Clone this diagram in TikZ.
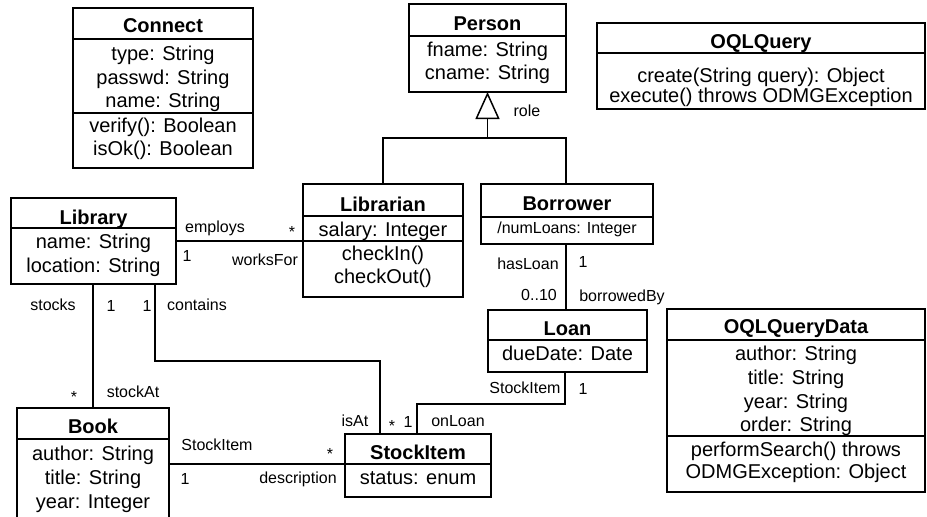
\documentclass[tikz,border=0pt]{standalone}
\usepackage{fontspec}
\setmainfont{Liberation Sans}
\usetikzlibrary{arrows.meta,calc}
\begin{document}
\begin{tikzpicture}[x=1pt,y=-1pt,
  box/.style={draw,line width=1.5pt,inner sep=0pt,outer sep=0pt},
  sepline/.style={line width=1.5pt},
  conn/.style={line width=1.5pt},
  title/.style={inner sep=0pt,font=\fontsize{20}{24}\selectfont\bfseries,text height=14.5pt,text depth=4pt},
  attr/.style={inner sep=0pt,font=\fontsize{20}{24}\selectfont,text height=14.5pt,text depth=4pt},
  small/.style={inner sep=0pt,font=\fontsize{16}{19}\selectfont,text height=11.5pt,text depth=3.5pt},
  lbl/.style={inner sep=0pt,font=\fontsize{16}{19}\selectfont,text height=11.5pt,text depth=3.5pt}
]
\useasboundingbox (0,0) rectangle (927,517);
\clip (0,0) rectangle (927,517);
\fill[white] (0,0) rectangle (927,517);

% ---------- Connect ----------
\node[box,minimum width=180pt,minimum height=160pt] (connect) at (163,88) {};
\draw[sepline] (connect.west |- 0,39) -- (connect.east |- 0,39);
\draw[sepline] (connect.west |- 0,113) -- (connect.east |- 0,113);
\node[title] (connect-t) at (163,27) {Connect};
\node[attr] (connect-a1) at (163,55) {type: String};
\node[attr] (connect-a2) at (163,79) {passwd: String};
\node[attr] (connect-a3) at (163,102) {name: String};
\node[attr] (connect-o1) at (163,127) {verify(): Boolean};
\node[attr] (connect-o2) at (163,150) {isOk(): Boolean};

% ---------- Person ----------
\node[box,minimum width=157pt,minimum height=88pt] (person) at (487.5,48) {};
\draw[sepline] (person.west |- 0,36) -- (person.east |- 0,36);
\node[title] (person-t) at (487.5,25) {Person};
\node[attr] (person-a1) at (487.5,51) {fname: String};
\node[attr] (person-a2) at (487.5,74) {cname: String};

% ---------- OQLQuery ----------
\node[box,minimum width=328pt,minimum height=86pt] (oql) at (761,66) {};
\draw[sepline] (oql.west |- 0,53) -- (oql.east |- 0,53);
\node[title] (oql-t) at (761,43) {OQLQuery};
\node[attr] (oql-o1) at (761,77) {create(String query): Object};
\node[attr] (oql-o2) at (761,97) {execute() throws ODMGException};

% ---------- Library ----------
\node[box,minimum width=165pt,minimum height=86pt] (library) at (93.5,241) {};
\draw[sepline] (library.west |- 0,228) -- (library.east |- 0,228);
\node[title] (library-t) at (93.5,219) {Library};
\node[attr] (library-a1) at (93.5,243) {name: String};
\node[attr] (library-a2) at (93.5,267) {location: String};

% ---------- Librarian ----------
\node[box,minimum width=160pt,minimum height=113pt] (librarian) at (383,240.5) {};
\draw[sepline] (librarian.west |- 0,216) -- (librarian.east |- 0,216);
\draw[sepline] (librarian.west |- 0,241) -- (librarian.east |- 0,241);
\node[title] (librarian-t) at (383,206) {Librarian};
\node[attr] (librarian-a1) at (383,231) {salary: Integer};
\node[attr] (librarian-o1) at (383,255) {checkIn()};
\node[attr] (librarian-o2) at (383,278) {checkOut()};

% ---------- Borrower ----------
\node[box,minimum width=172pt,minimum height=60pt] (borrower) at (567,214) {};
\draw[sepline] (borrower.west |- 0,217) -- (borrower.east |- 0,217);
\node[title] (borrower-t) at (567,205) {Borrower};
\node[small] (borrower-a1) at (567,229) {/numLoans: Integer};

% ---------- Loan ----------
\node[box,minimum width=159pt,minimum height=62pt] (loan) at (567.5,341) {};
\draw[sepline] (loan.west |- 0,340) -- (loan.east |- 0,340);
\node[title] (loan-t) at (567.5,330) {Loan};
\node[attr] (loan-a1) at (567.5,355) {dueDate: Date};

% ---------- OQLQueryData ----------
\node[box,minimum width=258pt,minimum height=183pt] (oqd) at (796,400.5) {};
\draw[sepline] (oqd.west |- 0,340) -- (oqd.east |- 0,340);
\draw[sepline] (oqd.west |- 0,436) -- (oqd.east |- 0,436);
\node[title] (oqd-t) at (796,328) {OQLQueryData};
\node[attr] (oqd-a1) at (796,355) {author: String};
\node[attr] (oqd-a2) at (796,379) {title: String};
\node[attr] (oqd-a3) at (796,403) {year: String};
\node[attr] (oqd-a4) at (796,426) {order: String};
\node[attr] (oqd-o1) at (796,451) {performSearch() throws};
\node[attr] (oqd-o2) at (796,473) {ODMGException: Object};

% ---------- Book ----------
\node[box,minimum width=152pt,minimum height=130pt] (book) at (93,473) {};
\draw[sepline] (book.west |- 0,439) -- (book.east |- 0,439);
\node[title] (book-t) at (93,428) {Book};
\node[attr] (book-a1) at (93,455) {author: String};
\node[attr] (book-a2) at (93,479) {title: String};
\node[attr] (book-a3) at (93,503) {year: Integer};

% ---------- StockItem ----------
\node[box,minimum width=146pt,minimum height=63pt] (stock) at (418,465.5) {};
\draw[sepline] (stock.west |- 0,464) -- (stock.east |- 0,464);
\node[title] (stock-t) at (418,454) {StockItem};
\node[attr] (stock-a1) at (418,479) {status: enum};

% ---------- Generalisation ----------
\coordinate (gen-join) at (487.5,138);
\draw[conn,-{Triangle[open,length=27pt,width=24pt,line width=1.5pt]}]
  (librarian.north -| 383,0) |- (gen-join) -- (person.south);
\draw[conn] (borrower.north -| 566,0) |- (gen-join);
\node[lbl] (role) at (527,112) {role};

% ---------- employs / worksFor ----------
\draw[conn] (library.east) -- (librarian.west |- library.east);
\node[lbl] (l-employs) at (215,228) {employs};
\node[lbl] (l-emp-star) at (292,233) {*};
\node[lbl] (l-emp-1) at (187,257) {1};
\node[lbl] (l-worksfor) at (265,261) {worksFor};

% ---------- stocks / stockAt ----------
\draw[conn] (library.south -| 93,0) -- (book.north -| 93,0);
\node[lbl] (l-stocks) at (53,306) {stocks};
\node[lbl] (l-stocks-1) at (111,307) {1};
\node[lbl] (l-stockat-star) at (74,398) {*};
\node[lbl] (l-stockat) at (133,393) {stockAt};

% ---------- contains / isAt ----------
\coordinate (contains-bend) at (380,361);
\draw[conn] (library.south -| 155,0) |- (contains-bend) -- (stock.north -| contains-bend);
\node[lbl] (l-contains-1) at (147,307) {1};
\node[lbl] (l-contains) at (197,306) {contains};
\node[lbl] (l-isat) at (355,422) {isAt};
\node[lbl] (l-isat-star) at (392,427) {*};

% ---------- hasLoan / borrowedBy ----------
\draw[conn] (borrower.south -| 566,0) -- (loan.north -| 566,0);
\node[lbl] (l-hasloan) at (528,265) {hasLoan};
\node[lbl] (l-hasloan-1) at (583,263) {1};
\node[lbl] (l-010) at (539,296) {0..10};
\node[lbl] (l-borrowedby) at (622,297) {borrowedBy};

% ---------- onLoan ----------
\coordinate (onloan-bend) at (417,404);
\draw[conn] (loan.south -| 565,0) |- (onloan-bend) -- (stock.north -| onloan-bend);
\node[lbl] (l-loan-si) at (525,389) {StockItem};
\node[lbl] (l-loan-1) at (583,390) {1};
\node[lbl] (l-onloan-1) at (408,423) {1};
\node[lbl] (l-onloan) at (458,422) {onLoan};

% ---------- description ----------
\draw[conn] (book.east |- 0,464) -- (stock.west |- 0,464);
\node[lbl] (l-desc-si) at (217,446) {StockItem};
\node[lbl] (l-desc-1) at (185,480) {1};
\node[lbl] (l-desc) at (298,479) {description};
\node[lbl] (l-desc-star) at (330,455) {*};
\end{tikzpicture}
\end{document}
